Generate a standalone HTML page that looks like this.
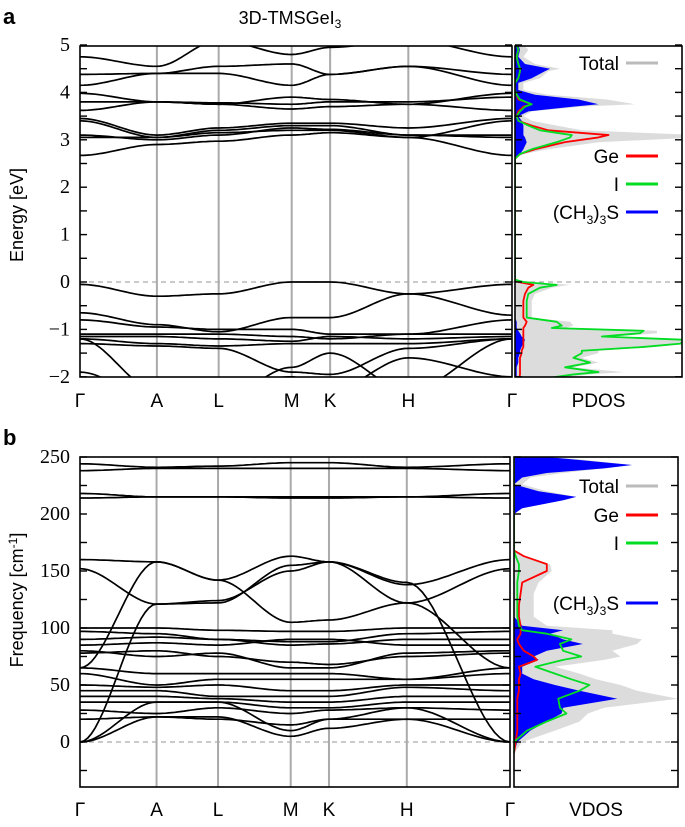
<!DOCTYPE html>
<html><head><meta charset="utf-8"><style>
body{margin:0;background:#fff}
svg text{font-family:"Liberation Sans",sans-serif}
.tk{font-family:"Liberation Serif",serif;font-size:20px}
</style></head><body>
<svg id="c" width="685" height="822" xmlns="http://www.w3.org/2000/svg">
<defs>
<clipPath id="ca"><rect x="80" y="46" width="432" height="331"/></clipPath>
<clipPath id="cpa"><rect x="515" y="46" width="167" height="331"/></clipPath>
<clipPath id="cb"><rect x="80" y="457" width="430" height="330"/></clipPath>
<clipPath id="cpb"><rect x="514" y="457" width="164" height="330"/></clipPath>
</defs>
<text x="3" y="24" font-size="22" font-weight="bold">a</text>
<text x="3" y="445" font-size="22" font-weight="bold">b</text>
<text x="290" y="24" font-size="18" text-anchor="middle">3D-TMSGeI<tspan font-size="12" dy="4">3</tspan></text>
<text transform="translate(23,215) rotate(-90)" font-size="18" text-anchor="middle">Energy [eV]</text>
<text transform="translate(23,600) rotate(-90)" font-size="18" text-anchor="middle">Frequency [cm<tspan font-size="12" dy="-6">-1</tspan><tspan dy="6">]</tspan></text>
<g id="ga"></g><g id="gb"></g>
</svg>
<script>
// ---- data ----
const kLabels=["Γ","A","L","M","K","H","Γ"];
const kPos=[0,0.178,0.321,0.49,0.579,0.76,1];
const eTicks=[5,4,3,2,1,0,-1,-2];
const fTicks=[250,200,150,100,50,0];
const elecBands=[
[2.67,2.9,2.97,3.1,3.15,3.05,2.67],
[3.05,3.05,3.2,3.3,3.3,3.1,3.05],
[3.45,3.1,3.25,3.35,3.35,3.25,3.45],
[3.4,3.05,3.15,3.2,3.2,3.05,3.4],
[3.1,3.0,3.1,3.25,3.22,3.1,3.1],
[3.62,3.8,3.75,3.65,3.7,3.75,3.62],
[3.98,3.8,3.75,3.9,3.85,3.75,3.98],
[3.8,3.8,3.78,3.75,3.8,3.8,3.9],
[4.15,4.4,4.4,4.15,4.38,4.55,4.38],
[4.38,4.4,4.55,4.6,4.38,4.55,4.15],
[4.75,4.55,5.1,4.8,4.95,5.1,4.75],
[-0.05,-0.3,-0.25,0.0,0.0,-0.25,-0.05],
[-0.65,-0.9,-1.05,-0.75,-0.75,-0.25,-0.7],
[-0.8,-0.95,-1.0,-1.0,-1.1,-1.1,-0.8],
[-1.1,-1.1,-1.1,-1.15,-1.2,-1.1,-1.1],
[-1.15,-1.15,-1.2,-1.25,-1.15,-1.2,-1.15],
[-1.2,-1.3,-1.35,-1.3,-1.3,-1.3,-1.2],
[-1.3,-1.35,-1.4,-1.9,-1.95,-1.4,-1.2],
[-1.2,-2.3,-2.5,-1.8,-1.5,-2.3,-1.2],
[-1.9,-2.5,-2.2,-2.0,-2.3,-1.6,-2.0]
];
const phonBands=[
[238,240,240,240,240,240,238],[244,241,242,245,245,241,244],
[214,215,215,215,215,215,214],[218,215,215,214,214,215,218],
[160,158,142,163,158,138,160],[152,121,122,155,158,122,152],
[0,121,124,150,158,140,0],[65,158,142,105,107,122,65],
[0,22,22,5,12,20,0],[0,35,35,10,20,30,0],
[100,100,98,97,97,100,100],[97,95,90,88,88,95,97],[90,92,90,85,86,90,90],
[85,87,85,90,90,85,85],[80,75,78,65,65,78,80],[78,80,75,70,68,75,78],
[65,60,60,60,60,55,65],[60,50,55,55,55,55,60],[50,48,50,45,45,50,50],
[45,45,40,40,40,48,45],[40,40,38,35,35,40,40],[35,35,35,30,30,35,35],
[28,25,30,25,28,30,28],[20,22,20,15,20,20,20]
];
const pdosE=[-2.1,-1.95,-1.9,-1.8,-1.7,-1.6,-1.5,-1.45,-1.37,-1.3,-1.22,-1.15,-1.08,-1.03,-0.97,-0.92,-0.84,-0.75,-0.6,-0.4,-0.25,-0.12,-0.06,0.0,0.05,2.6,2.7,2.8,2.95,3.05,3.1,3.2,3.3,3.4,3.5,3.6,3.7,3.75,3.85,3.95,4.05,4.2,4.3,4.45,4.5,4.6,4.75,4.9,5.0];
const pdosTotal=[0.1,0.45,0.65,0.35,0.5,0.4,0.5,0.5,0.85,1.05,1.05,0.6,0.85,0.85,0.3,0.35,0.33,0.1,0.1,0.1,0.12,0.22,0.33,0.1,0,0,0.05,0.2,0.5,1.1,1.1,0.4,0.25,0.1,0.05,0.1,0.4,0.72,0.55,0.2,0.05,0.05,0.15,0.2,0.27,0.12,0.05,0.08,0.05];
const pdosGe=[0.02,0.03,0.03,0.03,0.03,0.03,0.04,0.04,0.05,0.05,0.05,0.05,0.05,0.05,0.05,0.06,0.07,0.05,0.05,0.05,0.06,0.08,0.11,0.02,0,0,0.03,0.12,0.3,0.5,0.56,0.2,0.1,0.02,0.01,0.02,0.05,0.1,0.02,0.01,0,0,0.02,0.03,0.03,0.02,0.01,0.02,0.01];
const pdosI=[0.05,0.35,0.5,0.3,0.45,0.35,0.4,0.4,0.77,0.99,1.02,0.52,0.75,0.77,0.22,0.28,0.25,0.07,0.07,0.07,0.08,0.15,0.25,0.05,0,0,0.03,0.1,0.25,0.33,0.34,0.15,0.08,0.02,0.01,0.03,0.06,0.1,0.03,0.01,0,0,0.02,0.03,0.03,0.02,0.01,0.02,0.01];
const pdosS=[0.01,0.01,0.01,0.01,0.02,0.02,0.03,0.03,0.04,0.05,0.06,0.04,0.03,0.02,0.01,0.01,0.01,0,0,0,0,0,0,0,0,0,0.03,0.05,0.07,0.06,0.05,0.05,0.05,0.04,0.02,0.08,0.35,0.5,0.38,0.12,0.02,0.02,0.1,0.18,0.21,0.06,0.02,0.03,0.02];
const vdosF=[-10,0,10,18,25,30,38,45,50,55,60,66,72,75,80,86,90,95,98,102,110,120,130,140,150,156,163,168,175,200,205,212,215,220,226,232,236,240,243,248,252];
const vdosTotal=[0,0.05,0.25,0.4,0.45,0.55,1.0,0.75,0.65,0.5,0.4,0.25,0.55,0.65,0.6,0.75,0.78,0.6,0.6,0.2,0.12,0.12,0.12,0.15,0.23,0.22,0.06,0,0,0,0.05,0.3,0.38,0.2,0.05,0.1,0.3,0.55,0.72,0.4,0.1];
const vdosGe=[0,0.01,0.02,0.02,0.02,0.02,0.02,0.03,0.03,0.03,0.04,0.03,0.14,0.12,0.06,0.03,0.02,0.04,0.04,0.04,0.03,0.03,0.04,0.05,0.2,0.2,0.06,0,0,0,0,0,0,0,0,0,0,0,0,0,0];
const vdosI=[0,0,0.08,0.2,0.32,0.28,0.27,0.4,0.46,0.35,0.25,0.13,0.3,0.41,0.3,0.28,0.35,0.2,0.05,0.03,0.02,0.02,0.02,0.02,0.03,0.03,0.01,0,0,0,0,0,0,0,0,0,0,0,0,0,0];
const vdosS=[0,0.02,0.1,0.2,0.29,0.3,0.63,0.4,0.25,0.12,0.05,0.05,0.15,0.12,0.2,0.42,0.3,0.22,0.3,0.05,0,0,0,0,0,0,0,0,0,0,0.05,0.3,0.38,0.15,0,0.05,0.2,0.55,0.72,0.35,0.05];
// ---- drawing ----
const NS="http://www.w3.org/2000/svg";
function mk(tag,attrs,parent){const e=document.createElementNS(NS,tag);for(const k in attrs)e.setAttribute(k,attrs[k]);parent.appendChild(e);return e;}
function bandPath(vals,X,Y){let d="";for(let i=0;i<vals.length-1;i++){const xa=X(kPos[i]),xb=X(kPos[i+1]);for(let s=0;s<=20;s++){const t=s/20;const h=3*t*t-2*t*t*t;const x=xa+(xb-xa)*t,y=Y(vals[i]+(vals[i+1]-vals[i])*h);d+=(d?"L":"M")+x.toFixed(1)+","+y.toFixed(1);}}return d;}
function dosPts(ys,vals,Y,x0,w){return ys.map((e,i)=>[x0+Math.min(vals[i],1.2)*w,Y(e)]);}
function panel(g,cfg){
 const {x0,x1,px0,px1,top,bot,Y,ticks,minor,bands,clip,pclip,dosY,tot,ge,io,s,dosLabel,leg,labY}=cfg;
 const X=k=>x0+(x1-x0)*k;
 kPos.slice(1,-1).forEach((k,i)=>{const l=mk("line",{x1:X(k),x2:X(k),y1:top,y2:bot,stroke:"#aaa","stroke-width":2},g);
 
 });
 const z=mk("line",{x1:x0,x2:px1,y1:Y(0),y2:Y(0),stroke:"#aaa","stroke-width":1.3,"stroke-dasharray":"5,4"},g);
 
 
 const bg=mk("g",{"clip-path":`url(#${clip})`},g);
 bands.forEach(b=>{const p=mk("path",{d:bandPath(b,X,Y),fill:"none",stroke:"#000","stroke-width":1.7},bg);
 
 });
 const w=px1-px0;const dg=mk("g",{"clip-path":`url(#${pclip})`},g);
 function fill(vals,col,name){const pts=dosPts(dosY,vals,Y,px0,w);const d="M"+px0+","+pts[0][1]+pts.map(p=>"L"+p[0].toFixed(1)+","+p[1].toFixed(1)).join("")+"L"+px0+","+pts[pts.length-1][1]+"Z";const p=mk("path",{d:d,fill:col},dg);
 
 }
 function line(vals,col,name){const pts=dosPts(dosY,vals,Y,px0,w);const p=mk("polyline",{points:pts.map(p=>p.join(",")).join(" "),fill:"none",stroke:col,"stroke-width":1.8,"stroke-linejoin":"round"},dg);
 
 }
 fill(tot,"#dcdcdc","dos-total");fill(s,"#0000ff","dos-ch3-3s");line(ge,"#ff0000","dos-ge");line(io,"#00dd22","dos-i");
 [[x0,x1],[px0,px1]].forEach(([a,b],i)=>{const r=mk("rect",{x:a,y:top,width:b-a,height:bot-top,fill:"none",stroke:"#000","stroke-width":1.6},g);
 
 });
 minor.forEach(v=>{const y=Y(v);if(y<top-1||y>bot+1)return;mk("line",{x1:x0,x2:x0+7,y1:y,y2:y,stroke:"#000","stroke-width":1.4},g);mk("line",{x1:px0,x2:px0+7,y1:y,y2:y,stroke:"#000","stroke-width":1.4},g);mk("line",{x1:px1-7,x2:px1,y1:y,y2:y,stroke:"#000","stroke-width":1.4},g);mk("line",{x1:x1-7,x2:x1,y1:y,y2:y,stroke:"#000","stroke-width":1.4},g);});
 ticks.forEach(v=>{const t=mk("text",{x:x0-10,y:Y(v)+6,"text-anchor":"end",class:"tk"},g);t.textContent=(v<0?"\u2212"+(-v):v);
 
 });
 kLabels.forEach((l,i)=>{const t=mk("text",{x:X(kPos[i]),y:labY,"text-anchor":"middle","font-size":19},g);t.textContent=l;
 
 });
 const dl=mk("text",{x:(px0+px1)/2,y:labY,"text-anchor":"middle","font-size":19},g);dl.textContent=dosLabel;
 
 
 leg.forEach(([txt,col,y])=>{const e=mk("g",{},g);
 
 
 const t=mk("text",{x:619,y:y+7,"text-anchor":"end","font-size":19},e);
 if(txt==="CH"){t.innerHTML='(CH<tspan font-size="12" dy="5">3</tspan><tspan dy="-5">)</tspan><tspan font-size="12" dy="5">3</tspan><tspan dy="-5">S</tspan>';}else t.textContent=txt;
 mk("line",{x1:626,x2:658,y1:y,y2:y,stroke:col,"stroke-width":3},e);});
}
const Ya=E=>282-47.4*E;
panel(document.getElementById("ga"),{x0:80,x1:512,px0:515,px1:682,top:46,bot:377,Y:Ya,ticks:eTicks,minor:[5,4.5,4,3.5,3,2.5,2,1.5,1,0.5,0,-0.5,-1,-1.5,-2],bands:elecBands,clip:"ca",pclip:"cpa",dosY:pdosE,tot:pdosTotal,ge:pdosGe,io:pdosI,s:pdosS,dosLabel:"PDOS",labY:407,leg:[["Total","#bbb",63],["Ge","#ff0000",156],["I","#00dd22",184],["CH","#0000ff",212]]});
const Yb=f=>742-1.14*f;
panel(document.getElementById("gb"),{x0:80,x1:510,px0:514,px1:678,top:457,bot:787,Y:Yb,ticks:fTicks,minor:[250,225,200,175,150,125,100,75,50,25,0,-25],bands:phonBands,clip:"cb",pclip:"cpb",dosY:vdosF,tot:vdosTotal,ge:vdosGe,io:vdosI,s:vdosS,dosLabel:"VDOS",labY:816,leg:[["Total","#bbb",486],["Ge","#ff0000",515],["I","#00dd22",543],["CH","#0000ff",603]]});
</script>
</body></html>
